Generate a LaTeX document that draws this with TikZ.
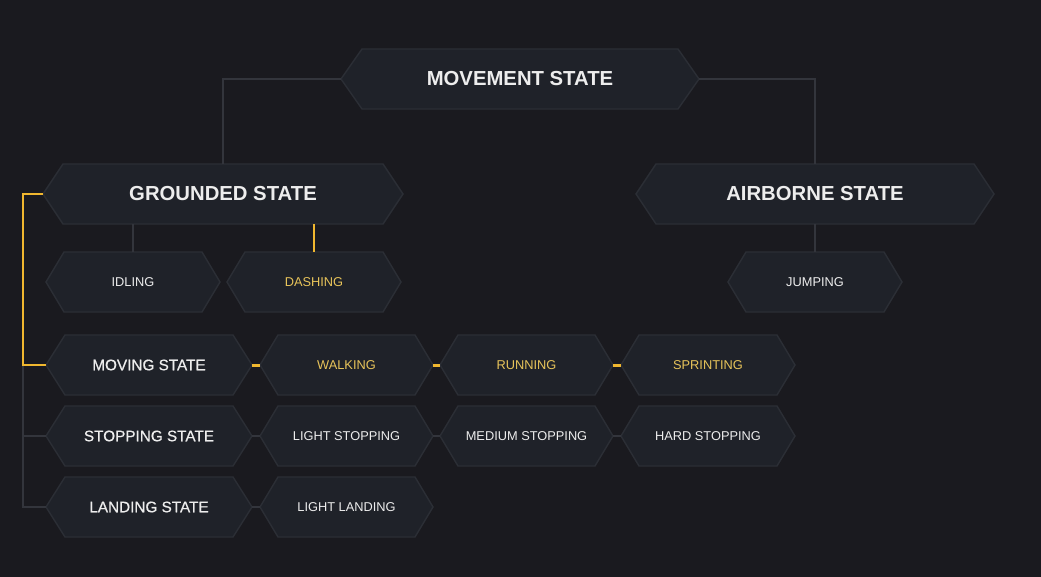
\documentclass[tikz,border=0pt]{standalone}
\usepackage{fontspec}
\setmainfont{Liberation Sans}
\newfontfamily\medfont{Liberation Sans}[FakeBold=0.7]
\definecolor{bg}{HTML}{1A1A1F}
\definecolor{hexfill}{HTML}{1F2229}
\definecolor{hexline}{HTML}{2B2E35}
\definecolor{wire}{HTML}{33353C}
\definecolor{gold}{HTML}{F0B72F}
\definecolor{goldtext}{HTML}{E8C45A}
\definecolor{txt}{HTML}{EDEDED}
\tikzset{
  hexshape/.style={fill=hexfill, draw=hexline, line width=1.4pt, line join=miter},
  bigtext/.style={text=txt, font=\bfseries\fontsize{20.3}{22}\selectfont},
  midtext/.style={text=txt, font=\medfont\fontsize{15.3}{18}\selectfont},
  smalltext/.style={text=txt, font=\fontsize{12.8}{15}\selectfont},
  goldsmall/.style={text=goldtext, font=\fontsize{12.8}{15}\selectfont},
  wireline/.style={draw=wire, line width=2pt},
  goldline/.style={draw=gold, line width=2.5pt},
}
% name, cx, cy, half width, half height, depth, style, text
\newcommand\hexbox[8]{%
  \path[hexshape] (#2-#4,#3) -- (#2-#4+#6,#3-#5) -- (#2+#4-#6,#3-#5) -- (#2+#4,#3)
     -- (#2+#4-#6,#3+#5) -- (#2-#4+#6,#3+#5) -- cycle;
  \node[#7, inner sep=0pt, minimum width=2*#4 pt, minimum height=2*#5 pt] (#1) at (#2,#3) {#8};
}
\begin{document}
\begin{tikzpicture}[x=1pt,y=-1pt]
\fill[bg] (0,0) rectangle (1041,577);
\useasboundingbox (0,0) rectangle (1041,577);

\coordinate (gl) at (223,79);
\coordinate (al) at (815,79);
\coordinate (lb) at (23,194);
\coordinate (lm) at (23,365);
\coordinate (ls) at (23,436);
\coordinate (ll) at (23,507);

\hexbox{move}{520}{79}{179}{30}{21}{bigtext}{MOVEMENT STATE}
\hexbox{ground}{223}{194}{180}{30}{20}{bigtext}{GROUNDED STATE}
\hexbox{air}{815}{194}{179}{30}{20}{bigtext}{AIRBORNE STATE}
\hexbox{idle}{133}{282}{87}{30}{18}{smalltext}{IDLING}
\hexbox{dash}{314}{282}{87}{30}{18}{goldsmall}{DASHING}
\hexbox{jump}{815}{282}{87}{30}{18}{smalltext}{JUMPING}
\hexbox{moving}{149}{365}{103}{30}{19}{midtext}{MOVING STATE}
\hexbox{walk}{346.5}{365}{86.5}{30}{18}{goldsmall}{WALKING}
\hexbox{run}{526.5}{365}{86.5}{30}{18}{goldsmall}{RUNNING}
\hexbox{sprint}{708}{365}{87}{30}{18}{goldsmall}{SPRINTING}
\hexbox{stopping}{149}{436}{103}{30}{19}{midtext}{STOPPING STATE}
\hexbox{lstop}{346.5}{436}{86.5}{30}{18}{smalltext}{LIGHT STOPPING}
\hexbox{mstop}{526.5}{436}{86.5}{30}{18}{smalltext}{MEDIUM STOPPING}
\hexbox{hstop}{708}{436}{87}{30}{18}{smalltext}{HARD STOPPING}
\hexbox{landing}{149}{507}{103}{30}{19}{midtext}{LANDING STATE}
\hexbox{lland}{346.5}{507}{86.5}{30}{18}{smalltext}{LIGHT LANDING}

% tree connectors
\draw[wireline] (move.west) -- (gl) -- (ground.north);
\draw[wireline] (move.east) -- (al) -- (air.north);
\draw[wireline] (ground.south -| idle.north) -- (idle.north);
\draw[goldline] (ground.south -| dash.north) -- (dash.north);
\draw[wireline] (air.south) -- (jump.north);
\draw[wireline] (lm) -- (ll) -- (landing.west);
\draw[wireline] (ls) -- (stopping.west);
\draw[goldline] (ground.west) -- (lb) -- (lm) -- (moving.west);
\draw[goldline, line width=3pt] (moving.east) -- (walk.west);
\draw[goldline, line width=3pt] (walk.east) -- (run.west);
\draw[goldline, line width=3pt] (run.east) -- (sprint.west);
\draw[wireline] (stopping.east) -- (lstop.west);
\draw[wireline] (lstop.east) -- (mstop.west);
\draw[wireline] (mstop.east) -- (hstop.west);
\draw[wireline] (landing.east) -- (lland.west);
\end{tikzpicture}
\end{document}
